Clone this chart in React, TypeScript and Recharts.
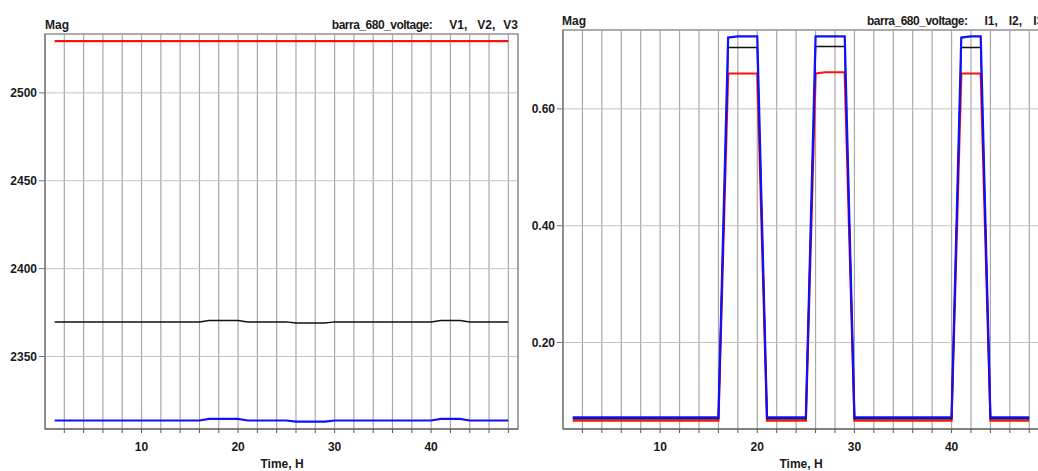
import React from 'react';
import { LineChart, Line, XAxis, YAxis, CartesianGrid, ReferenceArea } from 'recharts';

const hours = [1, 2, 3, 4, 5, 6, 7, 8, 9, 10, 11, 12, 13, 14, 15, 16, 17, 18, 19, 20, 21, 22, 23, 24, 25, 26, 27, 28, 29, 30, 31, 32, 33, 34, 35, 36, 37, 38, 39, 40, 41, 42, 43, 44, 45, 46, 47, 48];

const xTicks = [2, 4, 6, 8, 10, 12, 14, 16, 18, 20, 22, 24, 26, 28, 30, 32, 34, 36, 38, 40, 42, 44, 46, 48];
const xLabelTicks = [10, 20, 30, 40];

// Left panel: voltages
const voltV1 = [
  2529.5, 2529.5, 2529.5, 2529.5, 2529.5, 2529.5, 2529.5, 2529.5, 2529.5, 2529.5, 2529.5, 2529.5, 2529.5, 2529.5, 2529.5, 2529.5,
  2529.5, 2529.5, 2529.5, 2529.5, 2529.5, 2529.5, 2529.5, 2529.5, 2529.5, 2529.5, 2529.5, 2529.5, 2529.5, 2529.5, 2529.5, 2529.5,
  2529.5, 2529.5, 2529.5, 2529.5, 2529.5, 2529.5, 2529.5, 2529.5, 2529.5, 2529.5, 2529.5, 2529.5, 2529.5, 2529.5, 2529.5, 2529.5,
];
const voltV2 = [
  2369.7, 2369.7, 2369.7, 2369.7, 2369.7, 2369.7, 2369.7, 2369.7, 2369.7, 2369.7, 2369.7, 2369.7, 2369.7, 2369.7, 2369.7, 2369.7,
  2370.45, 2370.45, 2370.45, 2370.45,
  2369.7, 2369.7, 2369.7, 2369.7, 2369.7,
  2369.0, 2369.0, 2369.0, 2369.0,
  2369.7, 2369.7, 2369.7, 2369.7, 2369.7, 2369.7, 2369.7, 2369.7, 2369.7, 2369.7, 2369.7,
  2370.45, 2370.45, 2370.45,
  2369.7, 2369.7, 2369.7, 2369.7, 2369.7,
];
const voltV3 = [
  2313.6, 2313.6, 2313.6, 2313.6, 2313.6, 2313.6, 2313.6, 2313.6, 2313.6, 2313.6, 2313.6, 2313.6, 2313.6, 2313.6, 2313.6, 2313.6,
  2314.5, 2314.5, 2314.5, 2314.5,
  2313.6, 2313.6, 2313.6, 2313.6, 2313.6,
  2313.0, 2313.0, 2313.0, 2313.0,
  2313.6, 2313.6, 2313.6, 2313.6, 2313.6, 2313.6, 2313.6, 2313.6, 2313.6, 2313.6, 2313.6,
  2314.5, 2314.5, 2314.5,
  2313.6, 2313.6, 2313.6, 2313.6, 2313.6,
];
const voltDomain = [2308.75, 2533.5];
const voltTicks = [2350, 2400, 2450, 2500];

// Right panel: currents
const currI1 = [
  0.0662, 0.0662, 0.0662, 0.0662, 0.0662, 0.0662, 0.0662, 0.0662, 0.0662, 0.0662, 0.0662, 0.0662, 0.0662, 0.0662, 0.0662, 0.0662,
  0.6605, 0.6605, 0.6605, 0.6605,
  0.0662, 0.0662, 0.0662, 0.0662, 0.0662,
  0.6605, 0.6627, 0.6627, 0.6627,
  0.0662, 0.0662, 0.0662, 0.0662, 0.0662, 0.0662, 0.0662, 0.0662, 0.0662, 0.0662, 0.0662,
  0.6605, 0.6605, 0.6605,
  0.0662, 0.0662, 0.0662, 0.0662, 0.0662,
];
const currI2 = [
  0.0696, 0.0696, 0.0696, 0.0696, 0.0696, 0.0696, 0.0696, 0.0696, 0.0696, 0.0696, 0.0696, 0.0696, 0.0696, 0.0696, 0.0696, 0.0696,
  0.705, 0.705, 0.705, 0.705,
  0.0696, 0.0696, 0.0696, 0.0696, 0.0696,
  0.7067, 0.7067, 0.7067, 0.7067,
  0.0696, 0.0696, 0.0696, 0.0696, 0.0696, 0.0696, 0.0696, 0.0696, 0.0696, 0.0696, 0.0696,
  0.705, 0.705, 0.705,
  0.0696, 0.0696, 0.0696, 0.0696, 0.0696,
];
const currI3 = [
  0.072, 0.072, 0.072, 0.072, 0.072, 0.072, 0.072, 0.072, 0.072, 0.072, 0.072, 0.072, 0.072, 0.072, 0.072, 0.072,
  0.722, 0.724, 0.724, 0.724,
  0.072, 0.072, 0.072, 0.072, 0.072,
  0.724, 0.724, 0.724, 0.724,
  0.072, 0.072, 0.072, 0.072, 0.072, 0.072, 0.072, 0.072, 0.072, 0.072, 0.072,
  0.722, 0.724, 0.724,
  0.072, 0.072, 0.072, 0.072, 0.072,
];
const currDomain = [0.052, 0.735];
const currTicks = [0.2, 0.4, 0.6];

const FONT = 'Arial, "Liberation Sans", sans-serif';
const tickStyle = { fontSize: 12, fontWeight: 700, fill: '#1a1a1a', fontFamily: FONT };

const leftData = hours.map((t, i) => ({ t, a: voltV1[i], b: voltV2[i], c: voltV3[i] }));
const rightData = hours.map((t, i) => ({ t, a: currI1[i], b: currI2[i], c: currI3[i] }));

const xFmt = (v: number) => (xLabelTicks.includes(v) ? String(v) : '');

function Panel(props: {
  data: any[];
  width: number;
  margin: any;
  domain: number[];
  yTicks: number[];
  yFmt: (v: number) => string;
}) {
  const { data, width, margin, domain, yTicks, yFmt } = props;
  return (
    <LineChart width={width} height={471} data={data} margin={margin}>
      <CartesianGrid horizontal={false} stroke="#a8a8a8" strokeWidth={1.2} />
      <CartesianGrid vertical={false} stroke="#c4c4c4" strokeWidth={1} />
      <XAxis
        dataKey="t"
        type="number"
        domain={[0, 49]}
        ticks={xTicks}
        interval={0}
        tickFormatter={xFmt}
        tickSize={4}
        tickMargin={9}
        height={30}
        stroke="#555"
        tick={tickStyle}
        allowDataOverflow
      />
      <YAxis
        type="number"
        domain={domain}
        ticks={yTicks}
        interval={0}
        tickFormatter={yFmt}
        width={40}
        tickSize={6}
        tickMargin={2}
        stroke="#777"
        tick={tickStyle}
        allowDataOverflow
      />
      <ReferenceArea x1={0} x2={49} y1={domain[0]} y2={domain[1]} fill="none" stroke="#9a9a9a" strokeWidth={1.5} ifOverflow="visible" />
      <Line type="linear" dataKey="a" stroke="#ff1010" strokeWidth={2.2} dot={false} isAnimationActive={false} />
      <Line type="linear" dataKey="b" stroke="#111111" strokeWidth={1.5} dot={false} isAnimationActive={false} />
      <Line type="linear" dataKey="c" stroke="#1010ff" strokeWidth={2.2} dot={false} isAnimationActive={false} />
    </LineChart>
  );
}

const textBase: React.CSSProperties = {
  position: 'absolute',
  fontFamily: FONT,
  fontWeight: 700,
  color: '#1a1a1a',
  whiteSpace: 'pre',
};

function Title(props: { names: string[]; gaps: number[]; style: React.CSSProperties }) {
  return (
    <div style={{ ...textBase, fontSize: 12, lineHeight: '12px', ...props.style }}>
      <span style={{ letterSpacing: '-0.5px' }}>barra_680_voltage:</span>
      <span style={{ marginLeft: props.gaps[0] }}>{props.names[0]},</span>
      <span style={{ marginLeft: props.gaps[1] }}>{props.names[1]},</span>
      <span style={{ marginLeft: props.gaps[2] }}>{props.names[2]}</span>
    </div>
  );
}

export default function App() {
  return (
    <div style={{ position: 'fixed', left: 0, top: 0, width: 1038, height: 471, overflow: 'hidden', background: '#fff' }}>
      <div style={{ position: 'absolute', left: 0, top: 0 }}>
        <Panel
          data={leftData}
          width={520}
          margin={{ top: 34, right: 2, bottom: 12, left: 5 }}
          domain={voltDomain}
          yTicks={voltTicks}
          yFmt={(v) => String(v)}
        />
      </div>
      <div style={{ position: 'absolute', left: 520, top: 0 }}>
        <Panel
          data={rightData}
          width={521}
          margin={{ top: 30, right: 2, bottom: 12, left: 3 }}
          domain={currDomain}
          yTicks={currTicks}
          yFmt={(v) => v.toFixed(2)}
        />
      </div>
      <div style={{ ...textBase, fontSize: 12, lineHeight: '12px', left: 45, top: 19 }}>Mag</div>
      <Title names={['V1', 'V2', 'V3']} gaps={[17, 10, 8]} style={{ right: 1038 - 518, top: 19 }} />
      <div style={{ ...textBase, fontSize: 12, lineHeight: '12px', left: 562, top: 15 }}>Mag</div>
      <Title names={['I1', 'I2', 'I3']} gaps={[17, 11, 11]} style={{ left: 867, top: 15 }} />
      <div style={{ ...textBase, fontSize: 12, lineHeight: '12px', left: 282, top: 458, transform: 'translateX(-50%)' }}>Time, H</div>
      <div style={{ ...textBase, fontSize: 12, lineHeight: '12px', left: 801, top: 458, transform: 'translateX(-50%)' }}>Time, H</div>
    </div>
  );
}
